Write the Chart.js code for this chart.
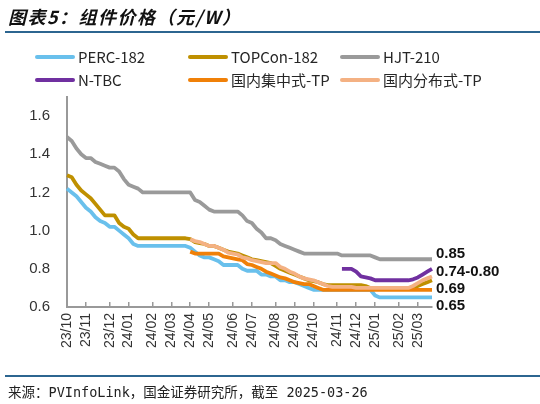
<!DOCTYPE html>
<html>
<head>
<meta charset="utf-8">
<script src="https://cdn.jsdelivr.net/npm/chart.js@4.4.1/dist/chart.umd.min.js"></script>
<style>
  html, body { margin: 0; padding: 0; background: #fff; }
  #wrap { position: relative; width: 540px; height: 404px; overflow: hidden; font-family: "Liberation Sans", Arial, sans-serif; }
  #chart { position: absolute; left: 0; top: 0; }
  .title { position: absolute; left: 8px; top: 3px; line-height: 26px; font: italic bold 18px "Noto Sans CJK SC", sans-serif; letter-spacing: 1.5px; color: #111; }
  .rule { position: absolute; left: 5px; right: 0; height: 2px; background: #2c6590; }
  #legend { position: absolute; left: 35px; top: 45px; display: grid; grid-template-columns: 153px 152px auto; grid-auto-rows: 23px; font: 15px "Noto Sans CJK SC", sans-serif; color: #262626; }
  #legend .item { display: flex; align-items: center; white-space: nowrap; }
  #legend .swatch { display: inline-block; width: 40px; height: 4px; border-radius: 2px; margin-right: 3px; }
  .note { position: absolute; left: 8px; top: 381px; line-height: 18px; font: 13.5px "DejaVu Sans Mono", "Noto Sans CJK SC", monospace; color: #222; }
</style>
</head>
<body>
<div id="wrap">
  <canvas id="chart" width="540" height="404"></canvas>
  <div class="title">图表5：组件价格（元/W）</div>
  <div class="rule" style="top:31px"></div>
  <div id="legend"></div>
  <div class="rule" style="top:375px"></div>
  <div class="note">来源：PVInfoLink，国金证券研究所，截至 2025-03-26</div>
</div>
<script>
// ── weekly price dates (PVInfoLink, Wednesdays) ─────────────────────
const weeks = [
  '2023-10-04','2023-10-11','2023-10-18','2023-10-25',
  '2023-11-01','2023-11-08','2023-11-15','2023-11-22','2023-11-29',
  '2023-12-06','2023-12-13','2023-12-20','2023-12-27',
  '2024-01-03','2024-01-10','2024-01-17','2024-01-24','2024-01-31',
  '2024-02-07','2024-02-14','2024-02-21','2024-02-28',
  '2024-03-06','2024-03-13','2024-03-20','2024-03-27',
  '2024-04-03','2024-04-10','2024-04-17','2024-04-24',
  '2024-05-01','2024-05-08','2024-05-15','2024-05-22','2024-05-29',
  '2024-06-05','2024-06-12','2024-06-19','2024-06-26',
  '2024-07-03','2024-07-10','2024-07-17','2024-07-24','2024-07-31',
  '2024-08-07','2024-08-14','2024-08-21','2024-08-28',
  '2024-09-04','2024-09-11','2024-09-18','2024-09-25',
  '2024-10-02','2024-10-09','2024-10-16','2024-10-23','2024-10-30',
  '2024-11-06','2024-11-13','2024-11-20','2024-11-27',
  '2024-12-04','2024-12-11','2024-12-18','2024-12-25',
  '2025-01-01','2025-01-08','2025-01-15','2025-01-22','2025-01-29',
  '2025-02-05','2025-02-12','2025-02-19','2025-02-26',
  '2025-03-05','2025-03-12','2025-03-19','2025-03-26'
];

// ── series (元/W) ─────────────────────────────────────────────────
const perc = [
  1.22,1.20,1.18,1.15,1.12,1.10,1.07,1.05,1.04,1.02,
  1.02,1.00,0.98,0.96,0.93,0.92,0.92,0.92,0.92,0.92,
  0.92,0.92,0.92,0.92,0.92,0.92,0.91,0.89,0.87,0.86,
  0.86,0.85,0.84,0.82,0.82,0.82,0.82,0.80,0.79,0.79,
  0.79,0.77,0.77,0.76,0.76,0.74,0.74,0.73,0.73,0.72,
  0.71,0.70,0.69,0.69,0.69,0.69,0.69,0.69,0.69,0.69,
  0.69,0.69,0.69,0.69,0.69,0.66,0.65,0.65,0.65,0.65,
  0.65,0.65,0.65,0.65,0.65,0.65,0.65,0.65
];
const topcon = [
  1.29,1.28,1.24,1.21,1.19,1.17,1.14,1.11,1.08,1.08,
  1.08,1.04,1.02,1.01,0.98,0.96,0.96,0.96,0.96,0.96,
  0.96,0.96,0.96,0.96,0.96,0.96,0.955,0.94,0.935,0.93,
  0.92,0.92,0.91,0.90,0.89,0.885,0.88,0.87,0.86,0.85,
  0.845,0.84,0.835,0.83,0.815,0.80,0.79,0.78,0.77,0.76,
  0.75,0.74,0.735,0.73,0.72,0.715,0.715,0.715,0.715,0.715,
  0.715,0.715,0.715,0.71,0.70,0.70,0.70,0.70,0.70,0.70,
  0.70,0.70,0.70,0.70,0.71,0.72,0.73,0.74
];
const hjt = [
  1.49,1.47,1.43,1.40,1.38,1.38,1.36,1.35,1.34,1.33,
  1.33,1.31,1.27,1.24,1.23,1.22,1.20,1.20,1.20,1.20,
  1.20,1.20,1.20,1.20,1.20,1.20,1.20,1.16,1.15,1.13,
  1.11,1.10,1.10,1.10,1.10,1.10,1.10,1.08,1.05,1.04,
  1.01,0.99,0.96,0.96,0.95,0.93,0.92,0.91,0.90,0.89,
  0.88,0.88,0.88,0.88,0.88,0.88,0.88,0.88,0.87,0.87,
  0.87,0.87,0.87,0.87,0.87,0.86,0.85,0.85,0.85,0.85,
  0.85,0.85,0.85,0.85,0.85,0.85,0.85,0.85
];
const ntbc = [
  null,null,null,null,null,null,null,null,null,null,
  null,null,null,null,null,null,null,null,null,null,
  null,null,null,null,null,null,null,null,null,null,
  null,null,null,null,null,null,null,null,null,null,
  null,null,null,null,null,null,null,null,null,null,
  null,null,null,null,null,null,null,null,0.80,0.80,
  0.80,0.785,0.76,0.755,0.75,0.74,0.74,0.74,0.74,0.74,
  0.74,0.74,0.74,0.745,0.755,0.77,0.785,0.80
];
const centralTP = [
  null,null,null,null,null,null,null,null,null,null,
  null,null,null,null,null,null,null,null,null,null,
  null,null,null,null,null,null,0.89,0.88,0.88,0.88,
  0.88,0.88,0.88,0.865,0.86,0.855,0.85,0.845,0.825,0.82,
  0.81,0.80,0.785,0.775,0.765,0.755,0.75,0.74,0.73,0.725,
  0.72,0.72,0.71,0.70,0.69,0.69,0.69,0.69,0.69,0.69,
  0.69,0.69,0.69,0.69,0.69,0.69,0.69,0.69,0.69,0.69,
  0.69,0.69,0.69,0.69,0.69,0.69,0.69,0.69
];
const distTP = [
  null,null,null,null,null,null,null,null,null,null,
  null,null,null,null,null,null,null,null,null,null,
  null,null,null,null,null,null,0.955,0.945,0.94,0.93,
  0.92,0.92,0.91,0.90,0.885,0.88,0.875,0.86,0.855,0.845,
  0.84,0.835,0.83,0.83,0.83,0.81,0.80,0.785,0.775,0.76,
  0.75,0.745,0.74,0.73,0.72,0.71,0.705,0.705,0.705,0.705,
  0.705,0.70,0.70,0.70,0.70,0.70,0.70,0.70,0.70,0.70,
  0.70,0.70,0.70,0.71,0.725,0.74,0.75,0.76
];

const seriesNames  = ['PERC-182', 'TOPCon-182', 'HJT-210', 'N-TBC', '国内集中式-TP', '国内分布式-TP'];
const seriesColors = ['#69c0ec', '#bf9000', '#9a9a9a', '#7030a0', '#f08008', '#f4b183'];
const seriesData   = [perc, topcon, hjt, ntbc, centralTP, distTP];
const drawOrder    = [6, 5, 4, 3, 2, 1];   // lower = drawn on top

// latest-price annotations at the right edge
const endLabels  = ['0.85', '0.74-0.80', '0.69', '0.65'];
const endLabelAt = [0.88, 0.782, 0.693, 0.604];

Chart.defaults.font.family = '"Liberation Sans", Arial, sans-serif';

// month label for the first week of each month, else null
function monthLabel(i) {
  const d = weeks[i];
  if (!d) return null;
  if (i > 0 && weeks[i - 1].slice(5, 7) === d.slice(5, 7)) return null;
  return d.slice(2, 4) + '/' + d.slice(5, 7);
}

const endLabelPlugin = {
  id: 'endLabels',
  afterDatasetsDraw(chart) {
    const { ctx, chartArea, scales: { y } } = chart;
    ctx.save();
    ctx.font = 'bold 15px "Liberation Sans", Arial, sans-serif';
    ctx.fillStyle = '#111';
    ctx.textAlign = 'left';
    ctx.textBaseline = 'middle';
    endLabels.forEach((t, i) => ctx.fillText(t, chartArea.right + 4, y.getPixelForValue(endLabelAt[i])));
    ctx.restore();
  }
};

const chart = new Chart(document.getElementById('chart'), {
  type: 'line',
  data: {
    labels: weeks,
    datasets: seriesData.map((d, i) => ({
      label: seriesNames[i],
      data: d,
      borderColor: seriesColors[i],
      backgroundColor: seriesColors[i],
      borderWidth: 3.8,
      borderJoinStyle: 'round',
      pointRadius: 0,
      tension: 0,
      fill: false,
      order: drawOrder[i]
    }))
  },
  options: {
    responsive: false,
    animation: false,
    events: [],
    layout: { padding: { top: 97, right: 108, left: 0, bottom: 0 } },
    plugins: { legend: { display: false }, tooltip: { enabled: false } },
    scales: {
      x: {
        type: 'category',
        offset: false,
        border: { color: '#999', width: 2 },
        grid: { drawOnChartArea: false, drawTicks: true, tickLength: -5, color: '#999', lineWidth: 1.5 },
        afterBuildTicks: s => { s.ticks = s.ticks.filter(t => monthLabel(t.value)); },
        ticks: {
          autoSkip: false, minRotation: 90, maxRotation: 90, padding: 11,
          color: '#333', font: { size: 14 },
          callback: v => monthLabel(v) || ''
        },
        afterFit: s => { s.height = 97; }
      },
      y: {
        min: 0.6, max: 1.7,
        border: { color: '#999', width: 2 },
        grid: { display: false, drawTicks: false },
        ticks: {
          stepSize: 0.2, padding: 17, color: '#333', font: { size: 15 },
          callback: v => v > 1.65 ? '' : v.toFixed(1)
        },
        afterFit: s => { s.width = 67; }
      }
    }
  },
  plugins: [endLabelPlugin]
});

// HTML legend in the reference's 3-column layout
const legendEl = document.getElementById('legend');
chart.data.datasets.forEach(ds => {
  const item = document.createElement('div');
  item.className = 'item';
  item.innerHTML = '<span class="swatch" style="background:' + ds.borderColor + '"></span>' + ds.label;
  legendEl.appendChild(item);
});
</script>
</body>
</html>
